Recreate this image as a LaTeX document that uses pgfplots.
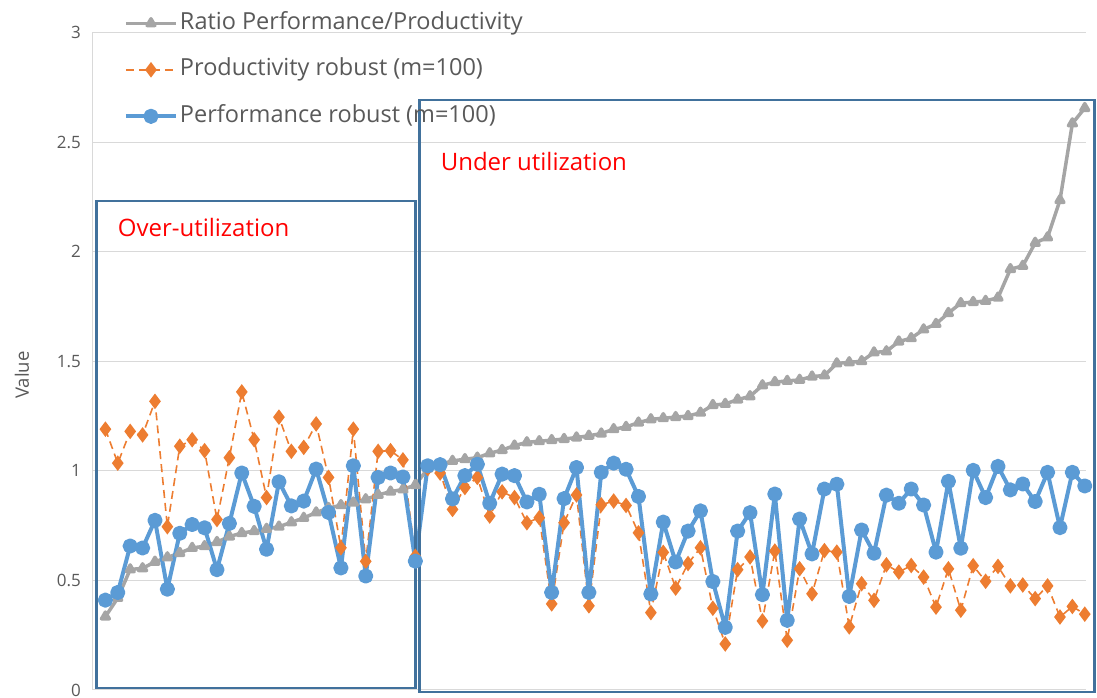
\documentclass[border=0pt]{standalone}
\usepackage{fontspec}
\setmainfont{Open Sans}
\usepackage{pgfplots}
\pgfplotsset{compat=1.18}
\usepackage{pgfplotstable}
\definecolor{cgray}{HTML}{A5A5A5}
\definecolor{corange}{HTML}{ED7D31}
\definecolor{cblue}{HTML}{5B9BD5}
\definecolor{cbox}{HTML}{41719C}
\definecolor{ctext}{HTML}{595959}
\definecolor{cgrid}{HTML}{D9D9D9}
\pgfplotstableread{
i ratio prod perf
1 0.335 1.19 0.41
2 0.42 1.035 0.445
3 0.55 1.18 0.657
4 0.555 1.164 0.648
5 0.585 1.317 0.774
6 0.605 0.745 0.46
7 0.625 1.112 0.715
8 0.648 1.142 0.755
9 0.656 1.092 0.74
10 0.675 0.778 0.549
11 0.70 1.06 0.76
12 0.716 1.36 0.99
13 0.725 1.142 0.838
14 0.735 0.878 0.642
15 0.745 1.245 0.95
16 0.765 1.089 0.84
17 0.785 1.107 0.862
18 0.81 1.214 1.008
19 0.83 0.97 0.81
20 0.843 0.649 0.557
21 0.855 1.19 1.023
22 0.87 0.587 0.52
23 0.89 1.089 0.97
24 0.905 1.092 0.99
25 0.915 1.05 0.972
26 0.935 0.61 0.588
27 1.01 1.01 1.023
28 1.03 0.99 1.028
29 1.045 0.824 0.872
30 1.053 0.924 0.978
31 1.06 0.97 1.03
32 1.08 0.794 0.852
33 1.095 0.904 0.985
34 1.115 0.878 0.978
35 1.13 0.763 0.858
36 1.135 0.786 0.893
37 1.14 0.393 0.445
38 1.145 0.763 0.873
39 1.152 0.89 1.015
40 1.16 0.384 0.445
41 1.17 0.845 0.993
42 1.19 0.862 1.035
43 1.20 0.842 1.007
44 1.22 0.717 0.883
45 1.235 0.353 0.438
46 1.24 0.628 0.766
47 1.245 0.465 0.584
48 1.25 0.577 0.725
49 1.265 0.649 0.817
50 1.30 0.373 0.495
51 1.305 0.21 0.286
52 1.325 0.549 0.725
53 1.34 0.607 0.809
54 1.39 0.315 0.435
55 1.405 0.634 0.894
56 1.41 0.227 0.318
57 1.415 0.553 0.78
58 1.43 0.439 0.621
59 1.435 0.636 0.917
60 1.49 0.629 0.939
61 1.495 0.288 0.427
62 1.50 0.485 0.73
63 1.54 0.409 0.624
64 1.545 0.571 0.889
65 1.59 0.538 0.852
66 1.605 0.568 0.917
67 1.645 0.515 0.844
68 1.67 0.378 0.629
69 1.72 0.553 0.952
70 1.765 0.364 0.647
71 1.77 0.567 1.002
72 1.775 0.496 0.878
73 1.79 0.564 1.02
74 1.92 0.475 0.913
75 1.935 0.479 0.94
76 2.04 0.417 0.86
77 2.065 0.475 0.993
78 2.235 0.333 0.741
79 2.585 0.381 0.993
80 2.655 0.346 0.931
}\datatable
\begin{document}
\begin{tikzpicture}
\begin{axis}[
  scale only axis, width=993pt, height=657.5pt,
  xmin=0, xmax=80.1, ymin=0, ymax=3,
  clip=false,
  xtick=\empty,
  ytick={0,0.5,1,1.5,2,2.5,3},
  ymajorgrids, grid style={cgrid, line width=1pt},
  axis x line*=bottom, axis y line*=left,
  axis line style={cgrid, line width=1pt},
  major tick length=0pt,
  /pgf/number format/assume math mode=true,
  yticklabel style={font=\fontsize{17}{20}\selectfont, text=ctext, inner sep=0pt, xshift=-12pt},
  ylabel={Value},
  ylabel style={font=\fontsize{18.5}{22}\selectfont, text=ctext, at={(axis description cs:-0.0715,0.479)}, anchor=center},
  legend cell align=left,
  legend style={at={(axis description cs:0.031,1.031)}, anchor=north west, draw=none, fill=none,
    font=\fontsize{23.5}{28}\selectfont, text=ctext, inner sep=0pt, row sep=24.5pt,
    nodes={inner sep=0pt, text height=17pt, text depth=5pt},
    /tikz/every odd column/.append style={column sep=2pt}},
  legend image code/.code={\draw[mark repeat=2,mark phase=2,#1] plot coordinates {(0pt,0pt) (25pt,0pt) (50pt,0pt)};},
]
\addplot[cgray, line width=3.5pt, line join=round, mark=triangle*, mark size=4.5pt, mark options={solid}] table[x=i, y=ratio] {\datatable};
\addlegendentry{Ratio Performance/Productivity}
\addplot[corange, line width=1.6pt, dash pattern=on 8pt off 5pt, mark=diamond*, mark size=6.5pt, mark options={solid}] table[x=i, y=prod] {\datatable};
\addlegendentry{Productivity robust (m=100)}
\addplot[cblue, line width=4pt, line join=round, mark=*, mark size=5.6pt, mark options={solid}] table[x=i, y=perf] {\datatable};
\addlegendentry{Performance robust (m=100)}
\draw[cbox, line width=2.5pt] (axis cs:0.298,0.009) rectangle (axis cs:26.02,2.231);
\draw[cbox, line width=2.5pt] (axis cs:26.35,-0.009) rectangle (axis cs:80.78,2.692);
\node[anchor=west, text=red, font=\fontsize{24}{28}\selectfont, inner sep=0pt] at (axis cs:1.99,2.108) {Over-utilization};
\node[anchor=west, text=red, font=\fontsize{24}{28}\selectfont, inner sep=0pt] at (axis cs:28.04,2.413) {Under utilization};
\end{axis}
\pgfresetboundingbox
\path[use as bounding box] (-93pt,-8pt) rectangle (1004pt,690pt);
\end{tikzpicture}
\end{document}
